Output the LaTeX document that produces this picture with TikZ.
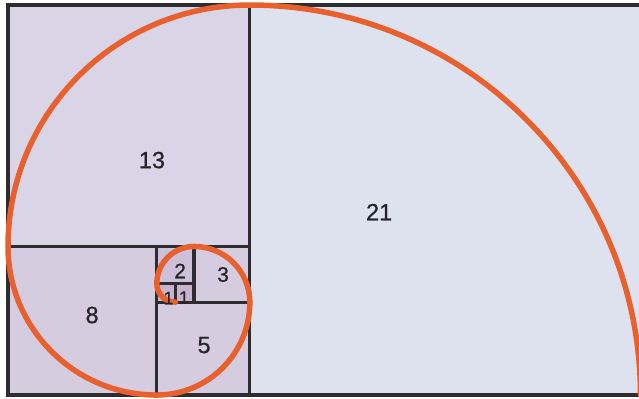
\documentclass[tikz,border=0pt]{standalone}
\usepackage{fontspec}
\setmainfont{Liberation Sans}
\newfontfamily\numfont{Liberation Sans}[FakeBold=0.7]
\definecolor{sqA}{RGB}{222,226,238}
\definecolor{sqB}{RGB}{218,213,230}
\definecolor{sqC}{RGB}{214,204,224}
\definecolor{sqD}{RGB}{206,192,216}
\definecolor{sqE}{RGB}{200,178,204}
\definecolor{edge}{RGB}{45,45,48}
\definecolor{spiral}{RGB}{232,96,46}
\definecolor{txt}{RGB}{35,35,40}
\tikzset{
  sq/.style={draw=edge, line width=3.3pt},
  spir/.style={draw=spiral, line width=5.5pt, line cap=round},
  lbl/.style={text=txt, font=\numfont\fontsize{23.5}{23.5}\selectfont, inner sep=0pt},
  lblm/.style={text=txt, font=\numfont\fontsize{21}{21}\selectfont, inner sep=0pt},
  lbls/.style={text=txt, font=\numfont\fontsize{18}{18}\selectfont, inner sep=0pt}
}
\begin{document}
\begin{tikzpicture}[x=18.6pt,y=18.57pt]
\useasboundingbox (-0.43,-0.16) rectangle (33.92,21.27);
\clip (-0.43,-0.16) rectangle (33.92,21.27);
\fill[white] (-0.43,-0.16) rectangle (33.92,21.27);
% fills
\fill[sqA] (13,0) rectangle (34,21);
\fill[sqB] (0,8) rectangle (13,21);
\fill[sqC] (0,0) rectangle (8,8);
\fill[sqC] (8,0) rectangle (13,5);
\fill[sqC] (10,5) rectangle (13,8);
\fill[sqD] (8,6) rectangle (10,8);
\fill[sqE] (8,5) rectangle (10,6);
% squares
\draw[sq] (35,21) -- (0,21) -- (0,0) -- (35,0);
\draw[sq] (13,0) -- (13,21);
\draw[sq] (0,8) -- (13,8);
\draw[sq] (8,0) -- (8,8);
\draw[sq] (8,5) -- (13,5);
\draw[sq] (10,5) -- (10,8);
\draw[sq] (8,6) -- (10,6);
\draw[sq] (9,5) -- (9,6);
% spiral
\draw[spir] (34,0) arc[start angle=0, end angle=90, radius=21]
  arc[start angle=90, end angle=180, radius=13]
  arc[start angle=180, end angle=270, radius=8]
  arc[start angle=270, end angle=360, radius=5]
  arc[start angle=0, end angle=90, radius=3]
  arc[start angle=90, end angle=180, radius=2]
  arc[start angle=180, end angle=270, radius=1];
% labels
\node[lbl] (l21) at (19.95,9.85) {21};
\node[lbl] (l13) at (7.74,12.65) {13};
\node[lbl] (l8) at (4.52,4.31) {8};
\node[lbl] (l5) at (10.54,2.69) {5};
\node[lblm] (l3) at (11.56,6.49) {3};
\node[lblm] (l2) at (9.25,6.68) {2};
\node[lbls] (l1a) at (8.63,5.22) {1};
\node[lbls] (l1b) at (9.46,5.25) {1};
\end{tikzpicture}
\end{document}
